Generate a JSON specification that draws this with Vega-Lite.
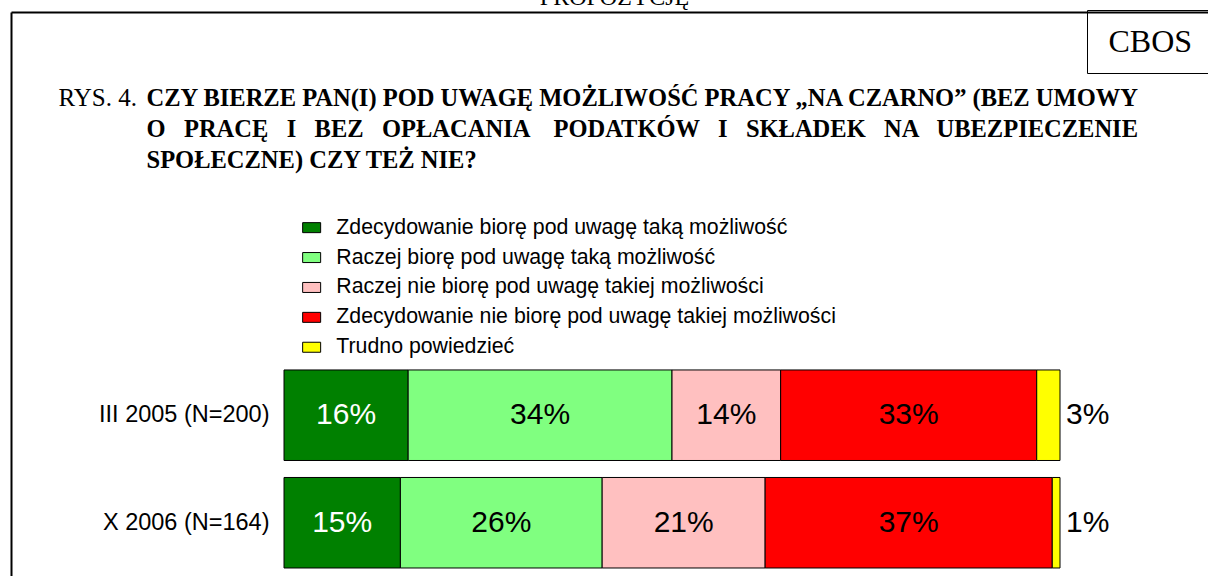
{
  "$schema": "https://vega.github.io/schema/vega-lite/v6.json",
  "width": 1197,
  "height": 564,
  "autosize": {"type": "none"},
  "padding": {"left": 11, "top": 12, "right": 0, "bottom": 0},
  "background": "white",
  "config": {"view": {"stroke": null}, "font": "Liberation Sans"},
  "title": {"text": "PROPOZYCJĘ", "font": "Liberation Serif", "fontSize": 24, "fontWeight": "normal", "anchor": "middle", "frame": "group", "offset": 0, "dx": 5, "color": "black"},
  "data": {"values": [
    {"period": "III 2005 (N=200)", "cat": "Zdecydowanie biorę pod uwagę taką możliwość", "order": 1, "value": 16},
    {"period": "III 2005 (N=200)", "cat": "Raczej biorę pod uwagę taką możliwość", "order": 2, "value": 34},
    {"period": "III 2005 (N=200)", "cat": "Raczej nie biorę pod uwagę takiej możliwości", "order": 3, "value": 14},
    {"period": "III 2005 (N=200)", "cat": "Zdecydowanie nie biorę pod uwagę takiej możliwości", "order": 4, "value": 33},
    {"period": "III 2005 (N=200)", "cat": "Trudno powiedzieć", "order": 5, "value": 3},
    {"period": "X 2006 (N=164)", "cat": "Zdecydowanie biorę pod uwagę taką możliwość", "order": 1, "value": 15},
    {"period": "X 2006 (N=164)", "cat": "Raczej biorę pod uwagę taką możliwość", "order": 2, "value": 26},
    {"period": "X 2006 (N=164)", "cat": "Raczej nie biorę pod uwagę takiej możliwości", "order": 3, "value": 21},
    {"period": "X 2006 (N=164)", "cat": "Zdecydowanie nie biorę pod uwagę takiej możliwości", "order": 4, "value": 37},
    {"period": "X 2006 (N=164)", "cat": "Trudno powiedzieć", "order": 5, "value": 1}
  ]},
  "transform": [
    {"stack": "value", "groupby": ["period"], "sort": [{"field": "order", "order": "ascending"}], "as": ["v0", "v1"]},
    {"calculate": "(datum.v0 + datum.v1) / 2", "as": "mid"},
    {"calculate": "datum.value + '%'", "as": "label"}
  ],
  "encoding": {
    "y": {
      "field": "period", "type": "nominal",
      "scale": {"domain": [" ", "  ", "III 2005 (N=200)", "X 2006 (N=164)"], "paddingInner": 0.158, "paddingOuter": 0.702, "align": 0.947},
      "axis": {
        "orient": "left", "domain": true, "domainColor": "black", "domainWidth": 2,
        "ticks": false, "tickSize": 0, "grid": false,
        "labelPadding": -258, "labelAlign": "right", "labelFont": "Liberation Sans", "labelFontSize": 23.5, "labelColor": "black", "labelLimit": 400,
        "title": "RYS. 4.", "titleFont": "Liberation Serif", "titleFontSize": 25, "titleFontWeight": "normal", "titleColor": "black",
        "titleAngle": 0, "titleX": 47, "titleY": 93, "titleAlign": "left", "titleBaseline": "alphabetic"
      }
    }
  },
  "layer": [
    {
      "mark": {"type": "bar", "stroke": "black", "strokeWidth": 1},
      "encoding": {
        "x": {
          "field": "v0", "type": "quantitative",
          "scale": {"domain": [-35.18, 119.07], "nice": false, "zero": false},
          "axis": {
            "orient": "top", "domain": true, "domainColor": "black", "domainWidth": 2,
            "ticks": false, "labels": false, "grid": false,
            "title": ["CZY BIERZE PAN(I) POD UWAGĘ MOŻLIWOŚĆ PRACY „NA CZARNO” (BEZ UMOWY", "O \u00a0\u00a0PRACĘ \u00a0\u00a0I \u00a0\u00a0BEZ \u00a0\u00a0OPŁACANIA \u00a0\u00a0\u00a0PODATKÓW \u00a0\u00a0I \u00a0\u00a0SKŁADEK \u00a0\u00a0NA \u00a0\u00a0UBEZPIECZENIE", "SPOŁECZNE) CZY TEŻ NIE?"],
            "titleFont": "Liberation Serif", "titleFontSize": 24.5, "titleFontWeight": "bold", "titleColor": "black",
            "titleX": 135, "titleY": 93, "titleAlign": "left", "titleBaseline": "alphabetic", "titleLineHeight": 31, "titleAngle": 0
          }
        },
        "x2": {"field": "v1"},
        "color": {
          "field": "cat", "type": "nominal",
          "scale": {
            "domain": ["Zdecydowanie biorę pod uwagę taką możliwość", "Raczej biorę pod uwagę taką możliwość", "Raczej nie biorę pod uwagę takiej możliwości", "Zdecydowanie nie biorę pod uwagę takiej możliwości", "Trudno powiedzieć"],
            "range": ["#008000", "#80FF80", "#FFC0C0", "#FF0000", "#FFFF00"]
          },
          "legend": {
            "orient": "none", "legendX": 290, "legendY": 205, "title": null, "padding": 0,
            "symbolType": "M-1,-0.556H1V0.556H-1Z", "symbolSize": 324, "symbolStrokeColor": "black", "symbolStrokeWidth": 1, "symbolOpacity": 1,
            "labelFont": "Liberation Sans", "labelFontSize": 21.3, "labelColor": "black", "labelOffset": 14, "labelLimit": 700,
            "rowPadding": 7.9
          }
        }
      }
    },
    {
      "transform": [{"filter": "datum.order < 5"}],
      "mark": {"type": "text", "fontSize": 30, "font": "Liberation Sans"},
      "encoding": {
        "x": {
          "field": "mid", "type": "quantitative",
          "axis": {
            "orient": "top", "domain": true, "domainColor": "black", "domainWidth": 2,
            "ticks": false, "labels": false, "grid": false,
            "title": ["CZY BIERZE PAN(I) POD UWAGĘ MOŻLIWOŚĆ PRACY „NA CZARNO” (BEZ UMOWY", "O \u00a0\u00a0PRACĘ \u00a0\u00a0I \u00a0\u00a0BEZ \u00a0\u00a0OPŁACANIA \u00a0\u00a0\u00a0PODATKÓW \u00a0\u00a0I \u00a0\u00a0SKŁADEK \u00a0\u00a0NA \u00a0\u00a0UBEZPIECZENIE", "SPOŁECZNE) CZY TEŻ NIE?"],
            "titleFont": "Liberation Serif", "titleFontSize": 24.5, "titleFontWeight": "bold", "titleColor": "black",
            "titleX": 135, "titleY": 93, "titleAlign": "left", "titleBaseline": "alphabetic", "titleLineHeight": 31, "titleAngle": 0
          }
        },
        "text": {"field": "label"},
        "color": {"condition": {"test": "datum.order === 1", "value": "white"}, "value": "black"}
      }
    },
    {
      "transform": [{"filter": "datum.order === 5"}],
      "mark": {"type": "text", "fontSize": 30, "font": "Liberation Sans", "align": "left", "dx": 6, "color": "black"},
      "encoding": {
        "x": {
          "field": "v1", "type": "quantitative",
          "axis": {
            "orient": "top", "domain": true, "domainColor": "black", "domainWidth": 2,
            "ticks": false, "labels": false, "grid": false,
            "title": ["CZY BIERZE PAN(I) POD UWAGĘ MOŻLIWOŚĆ PRACY „NA CZARNO” (BEZ UMOWY", "O \u00a0\u00a0PRACĘ \u00a0\u00a0I \u00a0\u00a0BEZ \u00a0\u00a0OPŁACANIA \u00a0\u00a0\u00a0PODATKÓW \u00a0\u00a0I \u00a0\u00a0SKŁADEK \u00a0\u00a0NA \u00a0\u00a0UBEZPIECZENIE", "SPOŁECZNE) CZY TEŻ NIE?"],
            "titleFont": "Liberation Serif", "titleFontSize": 24.5, "titleFontWeight": "bold", "titleColor": "black",
            "titleX": 135, "titleY": 93, "titleAlign": "left", "titleBaseline": "alphabetic", "titleLineHeight": 31, "titleAngle": 0
          }
        },
        "text": {"field": "label"}
      }
    },
    {
      "mark": {"type": "point", "size": 0, "opacity": 0},
      "encoding": {
        "x": {
          "field": "v0", "type": "quantitative",
          "axis": {
            "orient": "top", "domain": true, "domainColor": "black", "domainWidth": 2,
            "ticks": false, "labels": false, "grid": false,
            "title": ["CZY BIERZE PAN(I) POD UWAGĘ MOŻLIWOŚĆ PRACY „NA CZARNO” (BEZ UMOWY", "O \u00a0\u00a0PRACĘ \u00a0\u00a0I \u00a0\u00a0BEZ \u00a0\u00a0OPŁACANIA \u00a0\u00a0\u00a0PODATKÓW \u00a0\u00a0I \u00a0\u00a0SKŁADEK \u00a0\u00a0NA \u00a0\u00a0UBEZPIECZENIE", "SPOŁECZNE) CZY TEŻ NIE?"],
            "titleFont": "Liberation Serif", "titleFontSize": 24.5, "titleFontWeight": "bold", "titleColor": "black",
            "titleX": 135, "titleY": 93, "titleAlign": "left", "titleBaseline": "alphabetic", "titleLineHeight": 31, "titleAngle": 0
          }
        },
        "shape": {
          "datum": "CBOS", "type": "nominal",
          "legend": {
            "orient": "none", "legendX": 1076, "legendY": -2, "title": null, "padding": 15.5,
            "strokeColor": "black", "symbolSize": 0, "symbolOpacity": 0, "labelOffset": -26,
            "labelFont": "Liberation Serif", "labelFontSize": 32, "labelColor": "black", "labelLimit": 400,
            "labelExpr": "datum.label + '\u00a0\u00a0\u00a0'"
          }
        }
      }
    }
  ]
}
